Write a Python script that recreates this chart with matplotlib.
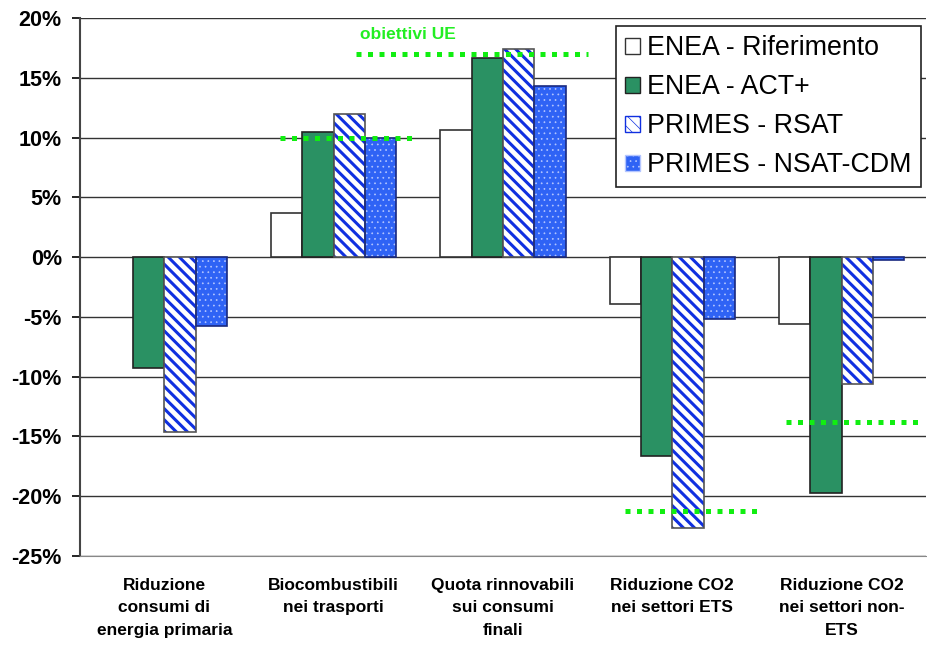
import numpy as np
import matplotlib
matplotlib.use("Agg")
import matplotlib.pyplot as plt
from matplotlib.patches import Patch

plt.rcParams['font.family'] = ['Liberation Sans', 'DejaVu Sans']

categories = ["Riduzione\nconsumi di\nenergia primaria",
              "Biocombustibili\nnei trasporti",
              "Quota rinnovabili\nsui consumi\nfinali",
              "Riduzione CO2\nnei settori ETS",
              "Riduzione CO2\nnei settori non-\nETS"]
series_names = ["ENEA - Riferimento", "ENEA - ACT+", "PRIMES - RSAT", "PRIMES - NSAT-CDM"]
enea_rif = [np.nan, 3.7, 10.6, -3.9, -5.6]
enea_act = [-9.3, 10.5, 16.7, -16.6, -19.7]
primes_rsat = [-14.6, 12.0, 17.4, -22.7, -10.6]
primes_nsat = [-5.8, 10.0, 14.3, -5.2, -0.2]
targets = [np.nan, 10.0, 17.0, -21.2, -13.8]
yticks = [20, 15, 10, 5, 0, -5, -10, -15, -20, -25]
ytick_labels = ["20%", "15%", "10%", "5%", "0%", "-5%", "-10%", "-15%", "-20%", "-25%"]

fig = plt.figure(figsize=(9.28, 6.45), dpi=100)
ax = fig.add_axes([0.086, 0.138, 0.912, 0.834])

x = np.arange(len(categories))
w = 0.185
offs = [-1.5, -0.5, 0.5, 1.5]
green = "#2a9163"
blue = "#2f63f5"
outline = "#555555"

# Riferimento: white
ax.bar(x + offs[0]*w, enea_rif, w, color="white", edgecolor="#333333", linewidth=1.2, zorder=3)
# ACT+: green
ax.bar(x + offs[1]*w, enea_act, w, color=green, edgecolor="#222222", linewidth=1.2, zorder=3)
# RSAT: white with blue diagonal hatch
plt.rcParams['hatch.linewidth'] = 2.2
ax.bar(x + offs[2]*w, primes_rsat, w, color="white", edgecolor="#1030e0", hatch="\\\\\\", linewidth=0, zorder=3)
ax.bar(x + offs[2]*w, primes_rsat, w, fill=False, edgecolor=outline, linewidth=1.2, zorder=4)
# NSAT: blue with small white dots
plt.rcParams['hatch.linewidth'] = 0.5
ax.bar(x + offs[3]*w, primes_nsat, w, color=blue, edgecolor="#b4c6ff", hatch="...", linewidth=0, zorder=3)
ax.bar(x + offs[3]*w, primes_nsat, w, fill=False, edgecolor="#1a2a80", linewidth=1.2, zorder=4)

# EU targets
tspan = [None, (-0.32, 0.48), (-0.87, 0.5), (-0.28, 0.5), (-0.33, 0.47)]
for i, t in enumerate(targets):
    if np.isnan(t):
        continue
    a, b = tspan[i]
    ax.plot([x[i] + a, x[i] + b], [t, t], color="#11ee11", linestyle=(0, (1, 1.3)),
            linewidth=3.6, zorder=6, solid_capstyle='butt', dash_capstyle='butt')
ax.text(x[2] - 0.845, 18.0, "obiettivi UE", color="#22ee22", fontsize=12.5, fontweight="bold",
        ha="left", va="bottom", zorder=6)

ax.set_xlim(-0.5, len(categories) - 0.5)
ax.set_ylim(-25, 20)
ax.set_yticks(yticks)
ax.set_yticklabels(ytick_labels, fontsize=15.5, fontweight="bold")
ax.yaxis.grid(True, color="#333333", linewidth=1.0, zorder=0)
ax.set_axisbelow(True)
ax.set_xticks(x)
ax.set_xticklabels(categories, fontsize=12.5, fontweight="bold", linespacing=1.6, va="top")
ax.tick_params(axis="x", length=0, pad=16)
ax.tick_params(axis="y", length=6, width=1.2, direction="out", pad=7)
for s in ["top", "right"]:
    ax.spines[s].set_visible(False)
ax.spines["bottom"].set_color("#888888")
ax.spines["left"].set_color("#444444")
ax.spines["left"].set_linewidth(1.5)

handles = [Patch(facecolor="white", edgecolor="#333333", linewidth=1),
           Patch(facecolor=green, edgecolor="#222222", linewidth=1),
           Patch(facecolor="white", edgecolor="#1030e0", hatch="\\\\\\", linewidth=1),
           Patch(facecolor=blue, edgecolor="#b4c6ff", hatch="...", linewidth=1)]
leg = ax.legend(handles, series_names, loc="upper right", bbox_to_anchor=(1.0, 0.995),
                fontsize=19.3, frameon=True, fancybox=False, edgecolor="#222222",
                handlelength=0.55, handleheight=0.55, handletextpad=0.25,
                labelspacing=0.48, borderpad=0.35, borderaxespad=0.2, framealpha=1)
leg.get_frame().set_linewidth(1.2)
leg.set_zorder(10)

fig.savefig("out.png", dpi=100)
